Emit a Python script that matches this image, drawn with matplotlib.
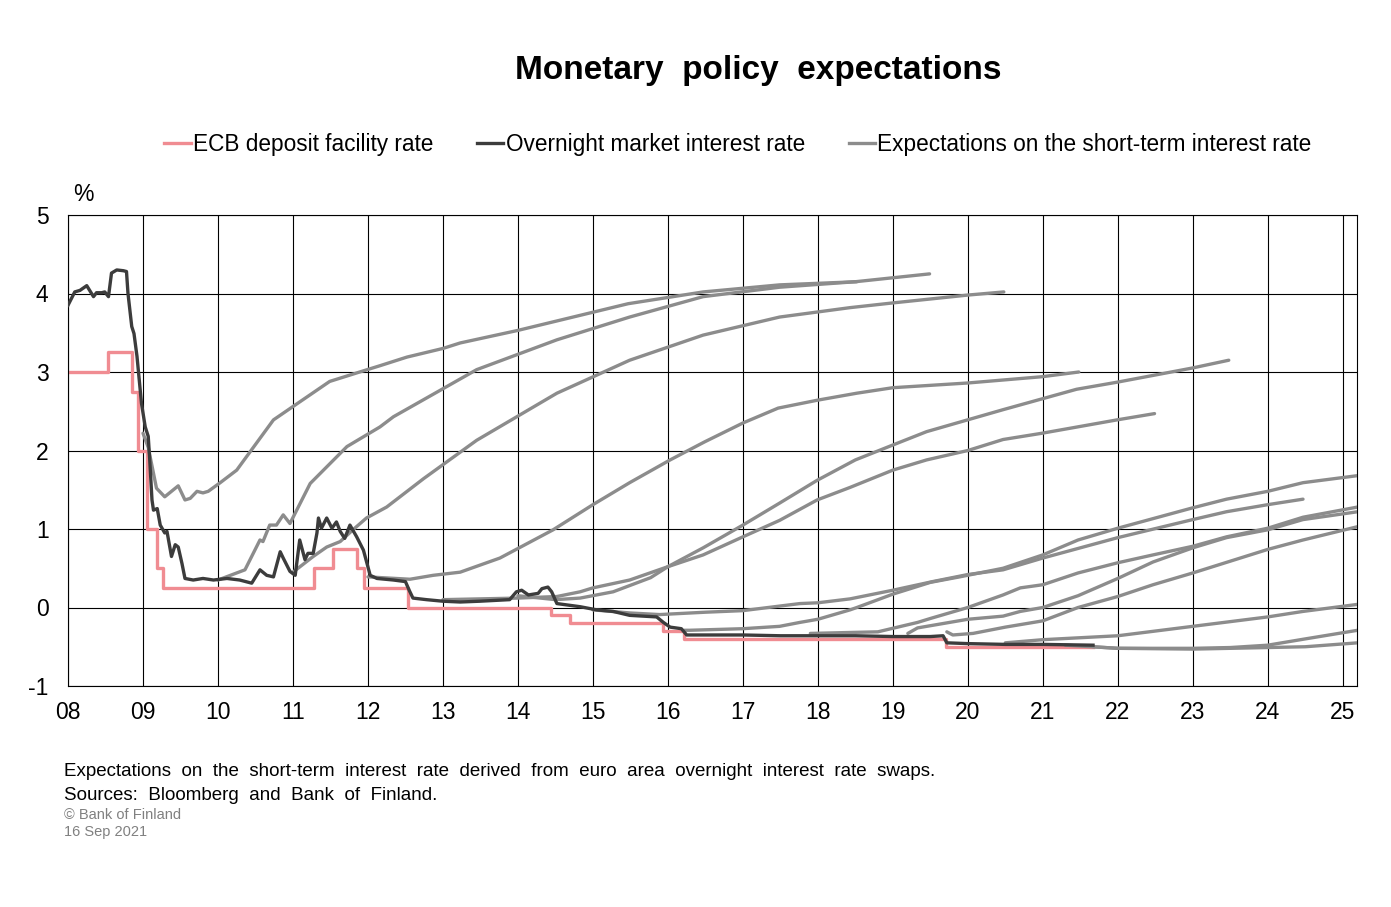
import matplotlib
matplotlib.use("Agg")
import matplotlib.pyplot as plt
from matplotlib.lines import Line2D

plt.rcParams['font.family'] = ['Liberation Sans', 'DejaVu Sans']
plt.rcParams['axes.unicode_minus'] = False

# ---------------- data (decimal years, %) ----------------
ecb_dates = [2008.0, 2008.53, 2008.86, 2008.94, 2009.05, 2009.19, 2009.27, 2011.28, 2011.53,
             2011.86, 2011.95, 2012.53, 2014.44, 2014.69, 2015.94, 2016.21, 2019.71, 2021.67]
ecb_rate = [3.00, 3.25, 2.75, 2.00, 1.00, 0.50, 0.25, 0.50, 0.75,
            0.50, 0.25, 0.00, -0.10, -0.20, -0.30, -0.40, -0.50, -0.50]

on_dates = [2008.0, 2008.09, 2008.16, 2008.25, 2008.34, 2008.38, 2008.45, 2008.49, 2008.54,
            2008.58, 2008.65, 2008.74, 2008.78, 2008.80, 2008.85, 2008.88, 2008.92, 2008.95,
            2008.98, 2009.03, 2009.07, 2009.09, 2009.12, 2009.14, 2009.19, 2009.23, 2009.29,
            2009.32, 2009.38, 2009.43, 2009.47, 2009.52, 2009.56, 2009.67, 2009.80, 2009.94,
            2010.12, 2010.29, 2010.45, 2010.56, 2010.65, 2010.74, 2010.83, 2010.87, 2010.96,
            2011.03, 2011.09, 2011.16, 2011.20, 2011.27, 2011.32, 2011.34, 2011.38, 2011.45,
            2011.52, 2011.58, 2011.63, 2011.69, 2011.76, 2011.85, 2011.94, 2012.03, 2012.12,
            2012.34, 2012.50, 2012.55, 2012.60, 2012.78, 2013.00, 2013.23, 2013.49, 2013.89,
            2013.98, 2014.05, 2014.14, 2014.27, 2014.32, 2014.40, 2014.45, 2014.52, 2014.83,
            2015.05, 2015.27, 2015.49, 2015.85, 2015.94, 2016.03, 2016.18, 2016.25, 2016.60,
            2017.00, 2017.50, 2018.00, 2018.50, 2019.00, 2019.50, 2019.67, 2019.72, 2020.00,
            2020.50, 2021.00, 2021.67]
on_rate = [3.85, 4.02, 4.04, 4.10, 3.96, 4.01, 4.01, 4.02, 3.96,
           4.26, 4.30, 4.29, 4.28, 4.00, 3.58, 3.49, 3.20, 2.90,
           2.60, 2.30, 2.18, 1.88, 1.37, 1.24, 1.26, 1.05, 0.95,
           0.97, 0.65, 0.80, 0.77, 0.56, 0.37, 0.35, 0.37, 0.35,
           0.37, 0.35, 0.31, 0.48, 0.41, 0.39, 0.71, 0.63, 0.46,
           0.41, 0.86, 0.61, 0.69, 0.69, 0.95, 1.14, 1.01, 1.14,
           1.01, 1.09, 0.97, 0.88, 1.05, 0.90, 0.73, 0.41, 0.37,
           0.35, 0.33, 0.22, 0.12, 0.10, 0.08, 0.07, 0.08, 0.10,
           0.20, 0.22, 0.16, 0.18, 0.24, 0.26, 0.20, 0.05, 0.01,
           -0.03, -0.05, -0.10, -0.12, -0.19, -0.25, -0.27, -0.35, -0.35,
           -0.35, -0.36, -0.36, -0.36, -0.37, -0.37, -0.36, -0.45, -0.46,
           -0.47, -0.47, -0.48]

# expectation curves (one per observation date)
exp_dates = [
    [2009.0, 2009.07, 2009.14, 2009.18, 2009.29, 2009.47, 2009.56, 2009.63, 2009.72, 2009.80,
     2009.87, 2010.03, 2010.25, 2010.38, 2010.74, 2011.0, 2011.49, 2011.89, 2012.16, 2012.52,
     2013.0, 2013.23, 2014.0, 2015.47, 2016.47, 2017.49, 2018.52],
    [2010.0, 2010.36, 2010.56, 2010.60, 2010.69, 2010.78, 2010.87, 2010.96, 2011.23, 2011.72,
     2012.16, 2012.34, 2013.45, 2014.52, 2015.49, 2016.47, 2017.49, 2018.50, 2019.49],
    [2011.0, 2011.27, 2011.45, 2011.63, 2011.80, 2011.98, 2012.25, 2012.74, 2013.45, 2014.52,
     2015.49, 2016.47, 2017.49, 2018.43, 2019.0, 2020.0, 2020.48],
    [2012.0, 2012.56, 2012.87, 2013.23, 2013.76, 2014.47, 2015.0, 2015.49, 2016.03, 2016.49,
     2017.0, 2017.47, 2017.99, 2018.52, 2019.0, 2020.0, 2020.99, 2021.48],
    [2013.0, 2013.5, 2014.0, 2014.52, 2014.83, 2015.0, 2015.49, 2016.0, 2016.47, 2017.0,
     2017.49, 2017.99, 2018.43, 2019.0, 2019.45, 2020.0, 2020.47, 2020.99, 2021.99, 2022.49],
    [2014.0, 2014.5, 2014.83, 2015.27, 2015.77, 2016.0, 2016.47, 2017.0, 2017.49, 2017.99,
     2018.5, 2019.0, 2019.45, 2020.47, 2021.45, 2021.99, 2022.99, 2023.48],
    [2015.0, 2015.5, 2015.89, 2016.5, 2017.0, 2017.76, 2018.0, 2018.43, 2019.0, 2019.53,
     2020.0, 2020.47, 2021.0, 2022.0, 2023.0, 2023.45, 2024.0, 2024.47],
    [2016.22, 2016.29, 2017.0, 2017.49, 2017.76, 2018.0, 2018.43, 2018.52, 2019.0, 2019.5,
     2019.89, 2020.47, 2021.0, 2021.47, 2022.0, 2023.0, 2023.45, 2024.0, 2024.47, 2025.2],
    [2017.9, 2018.8, 2019.33, 2019.5, 2020.0, 2020.47, 2020.7, 2021.0, 2021.47, 2022.0,
     2022.47, 2023.0, 2023.45, 2024.0, 2024.47, 2025.2],
    [2019.2, 2019.33, 2020.0, 2020.47, 2020.7, 2021.0, 2021.47, 2022.0, 2022.47, 2023.0,
     2023.45, 2024.0, 2024.47, 2025.2],
    [2019.72, 2019.8, 2020.07, 2020.5, 2021.0, 2021.47, 2022.0, 2022.47, 2023.0, 2024.0,
     2024.47, 2025.2],
    [2020.5, 2021.0, 2022.0, 2023.0, 2024.0, 2024.47, 2025.2],
    [2021.3, 2022.0, 2023.0, 2023.5, 2024.0, 2024.5, 2025.2],
    [2021.67, 2022.0, 2023.0, 2024.0, 2024.5, 2025.2],
]
exp_rates = [
    [2.22, 2.04, 1.71, 1.52, 1.41, 1.55, 1.37, 1.39, 1.48, 1.46,
     1.48, 1.59, 1.75, 1.92, 2.39, 2.56, 2.88, 3.00, 3.08, 3.19,
     3.30, 3.37, 3.53, 3.87, 4.02, 4.11, 4.15],
    [0.35, 0.48, 0.86, 0.84, 1.05, 1.05, 1.18, 1.07, 1.58, 2.05,
     2.30, 2.43, 3.03, 3.41, 3.70, 3.96, 4.08, 4.15, 4.25],
    [0.45, 0.65, 0.77, 0.84, 0.99, 1.14, 1.28, 1.64, 2.13, 2.73,
     3.15, 3.47, 3.70, 3.82, 3.88, 3.98, 4.02],
    [0.39, 0.36, 0.41, 0.45, 0.63, 0.99, 1.31, 1.59, 1.88, 2.11,
     2.35, 2.54, 2.64, 2.73, 2.80, 2.86, 2.94, 3.00],
    [0.10, 0.11, 0.12, 0.14, 0.20, 0.25, 0.35, 0.52, 0.67, 0.90,
     1.11, 1.37, 1.53, 1.75, 1.88, 2.00, 2.14, 2.22, 2.39, 2.47],
    [0.15, 0.10, 0.12, 0.20, 0.38, 0.52, 0.76, 1.05, 1.33, 1.62,
     1.88, 2.07, 2.24, 2.52, 2.78, 2.87, 3.05, 3.15],
    [-0.03, -0.07, -0.09, -0.06, -0.04, 0.05, 0.06, 0.11, 0.22, 0.33,
     0.42, 0.48, 0.63, 0.89, 1.12, 1.22, 1.31, 1.38],
    [-0.29, -0.29, -0.27, -0.24, -0.19, -0.15, -0.03, 0.00, 0.17, 0.32,
     0.39, 0.50, 0.67, 0.86, 1.01, 1.27, 1.38, 1.48, 1.59, 1.68],
    [-0.33, -0.31, -0.19, -0.14, 0.00, 0.16, 0.25, 0.29, 0.44, 0.57,
     0.67, 0.78, 0.90, 1.01, 1.15, 1.28],
    [-0.33, -0.26, -0.15, -0.11, -0.05, 0.00, 0.15, 0.37, 0.58, 0.76,
     0.89, 0.99, 1.12, 1.22],
    [-0.31, -0.35, -0.33, -0.25, -0.17, 0.00, 0.14, 0.29, 0.44, 0.74,
     0.86, 1.03],
    [-0.45, -0.41, -0.36, -0.24, -0.12, -0.05, 0.04],
    [-0.48, -0.52, -0.52, -0.51, -0.48, -0.40, -0.29],
    [-0.50, -0.52, -0.53, -0.51, -0.50, -0.45],
]

year_ticks = list(range(2008, 2026))
year_labels = [f"{y % 100:02d}" for y in year_ticks]
y_ticks = [-1, 0, 1, 2, 3, 4, 5]

RED = '#F08C92'
BLACK = '#3C3C3C'
GRAY = '#8C8C8C'
LW = 2.4

fig = plt.figure(figsize=(13.91, 9.07), dpi=100)
ax = fig.add_axes([68 / 1391, 1 - 686 / 907, (1357 - 68) / 1391, (686 - 215) / 907])

for xs, ys in zip(exp_dates, exp_rates):
    ax.plot(xs, ys, color=GRAY, lw=LW, solid_capstyle='round', zorder=3)
ax.plot(ecb_dates, ecb_rate, drawstyle='steps-post', color=RED, lw=LW, zorder=2)
ax.plot(on_dates, on_rate, color=BLACK, lw=LW, zorder=4)

ax.set_xlim(2008.0, 2025.19)
ax.set_ylim(-1, 5)
ax.set_xticks(year_ticks)
ax.set_xticklabels(year_labels)
ax.set_yticks(y_ticks)
ax.set_yticklabels([str(v) for v in y_ticks])
ax.tick_params(axis='both', length=0, labelsize=16.5, colors='black')
ax.tick_params(axis='x', pad=11)
ax.tick_params(axis='y', pad=14)
ax.grid(True, color='black', lw=0.8, zorder=1)
ax.set_axisbelow(True)
for s in ax.spines.values():
    s.set_color('black')
    s.set_linewidth(0.8)

fig.text(758 / 1391, 1 - 71 / 907, 'Monetary  policy  expectations', ha='center', va='center',
         fontsize=24, fontweight='bold')
fig.text(83 / 1391, 1 - 194 / 907, '%', ha='center', va='center', fontsize=16.5)

handles = [Line2D([], [], color=RED, lw=LW),
           Line2D([], [], color=BLACK, lw=LW),
           Line2D([], [], color=GRAY, lw=LW)]
labels = ['ECB deposit facility rate', 'Overnight market interest rate',
          'Expectations on the short-term interest rate']
fig.legend(handles, labels, loc='center', bbox_to_anchor=(738 / 1391, 1 - 144 / 907), ncol=3,
           frameon=False, fontsize=16.3, handlelength=1.15, handletextpad=0.1,
           columnspacing=1.95, borderaxespad=0, borderpad=0)

fig.text(64 / 1391, 1 - 772 / 907,
         'Expectations  on  the  short-term  interest  rate  derived  from  euro  area  overnight  interest  rate  swaps.',
         ha='left', va='center', fontsize=13.5)
fig.text(64 / 1391, 1 - 795 / 907, 'Sources:  Bloomberg  and  Bank  of  Finland.',
         ha='left', va='center', fontsize=13.5)
fig.text(64 / 1391, 1 - 815 / 907, '\u00a9 Bank of Finland', ha='left', va='center',
         fontsize=10.5, color='#808080')
fig.text(64 / 1391, 1 - 832 / 907, '16 Sep 2021', ha='left', va='center',
         fontsize=10.5, color='#808080')

fig.savefig('out.png', dpi=100)
